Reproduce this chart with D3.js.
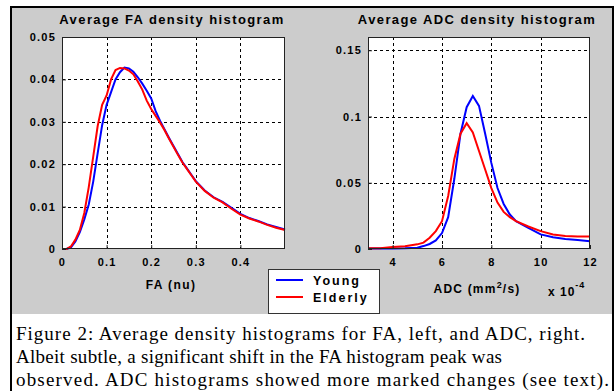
<!DOCTYPE html>
<html>
  <head>
    <title></title>
    <meta charset="UTF-8" />
    <script src="https://d3js.org/d3.v7.min.js"></script>
    <style>
      body { margin: 0; background: #fff; }
      svg text { font-family: "Liberation Sans", Arial, sans-serif; font-weight: bold; fill: #000; }
      svg text.caption { font-family: "Liberation Serif", "Times New Roman", serif; font-weight: normal; }
    </style>
  </head>
  <body>
    <svg width="616" height="391"></svg>
    <script>
      // 1. data
      const faX = [0.006, 0.01, 0.02, 0.03, 0.04, 0.05, 0.06, 0.07, 0.08, 0.09, 0.1, 0.11, 0.12, 0.13, 0.14, 0.15,
        0.16, 0.17, 0.18, 0.19, 0.2, 0.21, 0.22, 0.23, 0.24, 0.25, 0.26, 0.27, 0.28, 0.29, 0.3, 0.32, 0.34,
        0.36, 0.38, 0.4, 0.42, 0.44, 0.46, 0.48, 0.5]
      const faYoung = [0, 0, 0.0004, 0.0018, 0.004, 0.007, 0.0105, 0.0159, 0.0226, 0.0292, 0.034, 0.037, 0.04,
        0.0417, 0.0428, 0.0426, 0.0418, 0.0405, 0.039, 0.0373, 0.0355, 0.0325, 0.0302, 0.0282, 0.0262, 0.0243,
        0.0224, 0.0205, 0.019, 0.0175, 0.016, 0.0138, 0.0122, 0.0111, 0.0097, 0.0083, 0.0073, 0.0066, 0.0058,
        0.0052, 0.0046]
      const faElderly = [0, 0, 0.0006, 0.0022, 0.0045, 0.0085, 0.0146, 0.0218, 0.029, 0.034, 0.0362, 0.04, 0.0422,
        0.0427, 0.0426, 0.0421, 0.0412, 0.0395, 0.0376, 0.035, 0.033, 0.0314, 0.0298, 0.028, 0.026, 0.0241,
        0.0222, 0.0204, 0.0189, 0.0174, 0.0159, 0.0137, 0.0121, 0.011, 0.0095, 0.0081, 0.0072, 0.0065, 0.0057,
        0.005, 0.0045]

      const adcX = [3, 3.5, 4, 4.5, 5, 5.25, 5.5, 5.75, 6, 6.25, 6.5, 6.75, 7, 7.25, 7.5, 7.75, 8, 8.25, 8.5,
        8.75, 9, 9.5, 10, 10.5, 11, 11.5, 12]
      const adcYoung = [0.0003, 0.0003, 0.0004, 0.0005, 0.001, 0.0022, 0.0038, 0.0065, 0.012, 0.024, 0.053,
        0.087, 0.107, 0.1155, 0.108, 0.087, 0.065, 0.046, 0.034, 0.026, 0.021, 0.016, 0.011, 0.0088, 0.0075,
        0.0068, 0.0058]
      const adcElderly = [0.0005, 0.0005, 0.0015, 0.002, 0.0035, 0.0048, 0.0085, 0.0135, 0.021, 0.04, 0.068,
        0.087, 0.095, 0.088, 0.074, 0.06, 0.046, 0.035, 0.028, 0.024, 0.021, 0.017, 0.0135, 0.011, 0.0098,
        0.0095, 0.0095]

      const faXTicks = [0, 0.1, 0.2, 0.3, 0.4]
      const faYTicks = [0, 0.01, 0.02, 0.03, 0.04, 0.05]
      const adcXTicks = [4, 6, 8, 10, 12]
      const adcYTicks = [0, 0.05, 0.1, 0.15]
      const seriesNames = ["Young", "Elderly"]
      const captionLines = [
        "Figure 2: Average density histograms for FA, left, and ADC, right.",
        "Albeit subtle, a significant shift in the FA histogram peak was",
        "observed. ADC histograms showed more marked changes (see text)."
      ]
      const colors = ["#0000ff", "#ff0000"]

      const svg = d3.select("svg")

      // 2. grey figure background + frame
      svg.append("rect").attr("x", 11).attr("y", 7).attr("width", 602).attr("height", 307).attr("fill", "#cccccc")
      svg.append("path")
        .attr("d", "M11,391V7H613V391")
        .attr("fill", "none")
        .attr("stroke", "#000")
        .attr("stroke-width", 2)

      // 3. one histogram panel
      function drawPanel(o) {
        const x = d3.scaleLinear().domain(o.xDomain).range([o.left, o.right])
        const y = d3.scaleLinear().domain(o.yDomain).range([o.bottom, o.top])
        const g = svg.append("g")

        g.append("rect")
          .attr("x", o.left).attr("y", o.top)
          .attr("width", o.right - o.left).attr("height", o.bottom - o.top)
          .attr("fill", "#fff")

        // dotted grid
        g.selectAll(".vgrid").data(o.xTicks.filter((d) => x(d) > o.left + 1 && x(d) < o.right - 1))
          .enter().append("line")
          .attr("x1", (d) => Math.round(x(d)) + 0.5).attr("x2", (d) => Math.round(x(d)) + 0.5)
          .attr("y1", o.top).attr("y2", o.bottom)
          .attr("stroke", "#000").attr("stroke-dasharray", "3,3")
        g.selectAll(".hgrid").data(o.yTicks.filter((d) => y(d) < o.bottom - 1))
          .enter().append("line")
          .attr("y1", (d) => Math.round(y(d)) + 0.5).attr("y2", (d) => Math.round(y(d)) + 0.5)
          .attr("x1", o.left).attr("x2", o.right)
          .attr("stroke", "#000").attr("stroke-dasharray", "3,3")

        // curves
        const line = d3.line().x((d) => x(d[0])).y((d) => y(d[1]))
        o.series.forEach((s, i) => {
          g.append("path")
            .datum(o.xs.map((v, j) => [v, s[j]]))
            .attr("d", line)
            .attr("fill", "none")
            .attr("stroke", colors[i])
            .attr("stroke-width", 2)
        })

        // axes box
        g.append("rect")
          .attr("x", o.left + 0.5).attr("y", o.top + 0.5)
          .attr("width", o.right - o.left - 1).attr("height", o.bottom - o.top - 1)
          .attr("fill", "none").attr("stroke", "#222")

        const xAxis = g.append("g")
          .attr("transform", "translate(0," + o.bottom + ")")
          .call(d3.axisBottom(x).tickValues(o.xTicks).tickFormat(o.xFormat).tickSizeInner(-4).tickSizeOuter(0).tickPadding(9))
        const yAxis = g.append("g")
          .attr("transform", "translate(" + o.left + ",0)")
          .call(d3.axisLeft(y).tickValues(o.yTicks).tickFormat(o.yFormat).tickSizeInner(-4).tickSizeOuter(0).tickPadding(6))
        ;[xAxis, yAxis].forEach((a) => {
          a.select(".domain").remove()
          a.selectAll("line").attr("stroke", "#222")
          a.selectAll("text")
            .attr("font-family", null)
            .style("font-size", "11px")
            .style("letter-spacing", "1.2px")
        })

        // title and label
        svg.append("text")
          .attr("x", o.titleX).attr("y", 24)
          .attr("text-anchor", "middle")
          .style("font-size", "13px").style("letter-spacing", "1.4px")
          .text(o.title)
        return { x, y, g }
      }

      drawPanel({
        left: 62, right: 285, top: 37, bottom: 249,
        xDomain: [0, 0.5], yDomain: [0, 0.05],
        xTicks: faXTicks, yTicks: faYTicks,
        xFormat: (d) => d, yFormat: (d) => d,
        xs: faX, series: [faYoung, faElderly],
        title: "Average FA density histogram", titleX: 172
      })
      drawPanel({
        left: 368, right: 590, top: 37, bottom: 249,
        xDomain: [3, 12], yDomain: [0, 0.16],
        xTicks: adcXTicks, yTicks: adcYTicks,
        xFormat: (d) => d, yFormat: (d) => d,
        xs: adcX, series: [adcYoung, adcElderly],
        title: "Average ADC density histogram", titleX: 477
      })

      // 4. axis labels
      svg.append("text")
        .attr("x", 171).attr("y", 289)
        .attr("text-anchor", "middle")
        .style("font-size", "12px").style("letter-spacing", "1.4px")
        .text("FA (nu)")
      const adcLabel = svg.append("text")
        .attr("x", 477).attr("y", 293)
        .attr("text-anchor", "middle")
        .style("font-size", "12px").style("letter-spacing", "1.2px")
      adcLabel.append("tspan").text("ADC (mm")
      adcLabel.append("tspan").attr("dy", -5).style("font-size", "9px").text("2")
      adcLabel.append("tspan").attr("dy", 5).text("/s)")
      const expLabel = svg.append("text")
        .attr("x", 548).attr("y", 296)
        .style("font-size", "12px").style("letter-spacing", "1px")
      expLabel.append("tspan").text("x 10")
      expLabel.append("tspan").attr("dy", -8).style("font-size", "9px").text("-4")

      // 5. legend
      const legend = svg.append("g").attr("transform", "translate(268,269)")
      legend.append("rect")
        .attr("x", 0.5).attr("y", 0.5).attr("width", 111).attr("height", 44)
        .attr("fill", "#fff").attr("stroke", "#333")
      seriesNames.forEach((name, i) => {
        const ly = 11 + i * 17
        legend.append("line")
          .attr("x1", 8).attr("x2", 35).attr("y1", ly).attr("y2", ly)
          .attr("stroke", colors[i]).attr("stroke-width", 2)
        legend.append("text")
          .attr("x", 45).attr("y", ly + 5)
          .style("font-size", "12.5px").style("letter-spacing", "2px")
          .text(name)
      })

      // 6. caption
      const captionWidths = [569, 486, 593]
      svg.selectAll(".caption").data(captionLines).enter().append("text")
        .attr("class", "caption")
        .attr("x", 16)
        .attr("y", (d, i) => 339.5 + i * 23)
        .attr("textLength", (d, i) => captionWidths[i])
        .attr("lengthAdjust", "spacing")
        .style("font-size", "19px")
        .text((d) => d)
    </script>
  </body>
</html>
